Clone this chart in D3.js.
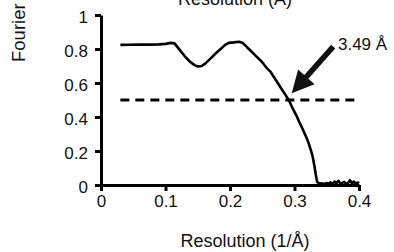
<!DOCTYPE html>
<html>
<head>
<meta charset="utf-8">
<script src="https://cdn.jsdelivr.net/npm/d3@7"></script>
<style>
  body { margin: 0; background: #fff; }
  svg { display: block; font-family: "Liberation Sans", Arial, sans-serif; }
</style>
</head>
<body>
<svg id="chart" width="394" height="252"></svg>
<script>
// FSC curve
var resolution = [0.030, 0.045, 0.060, 0.075, 0.090, 0.100, 0.108, 0.114, 0.122, 0.130,
  0.138, 0.145, 0.150, 0.156, 0.162, 0.170, 0.178, 0.186, 0.192, 0.198,
  0.206, 0.214, 0.220, 0.226, 0.232, 0.240, 0.247, 0.252, 0.257, 0.263,
  0.268, 0.274, 0.280, 0.286, 0.291, 0.296, 0.300, 0.304, 0.308, 0.312,
  0.316, 0.319, 0.322, 0.325, 0.328, 0.331, 0.333, 0.335, 0.338, 0.342,
  0.346, 0.350, 0.353, 0.356, 0.359, 0.362, 0.365, 0.368, 0.371, 0.374,
  0.377, 0.380, 0.383, 0.386, 0.389, 0.392, 0.395, 0.398, 0.400];
var fsc = [0.824, 0.825, 0.826, 0.826, 0.827, 0.830, 0.836, 0.833, 0.795, 0.757,
  0.725, 0.705, 0.697, 0.700, 0.715, 0.745, 0.775, 0.802, 0.823, 0.836,
  0.839, 0.843, 0.835, 0.812, 0.790, 0.760, 0.734, 0.712, 0.688, 0.665,
  0.635, 0.600, 0.565, 0.530, 0.500, 0.460, 0.430, 0.400, 0.365, 0.335,
  0.300, 0.275, 0.245, 0.210, 0.170, 0.110, 0.060, 0.020, 0.008, 0.010,
  0.006, 0.012, 0.008, 0.015, 0.006, 0.020, 0.010, 0.025, 0.008, 0.012,
  0.018, 0.006, 0.012, 0.028, 0.010, 0.020, 0.007, 0.015, 0.010];

var xTicks = [0, 0.1, 0.2, 0.3, 0.4];
var yTicks = [0, 0.2, 0.4, 0.6, 0.8, 1];
var threshold = 0.5;
var thresholdRange = [0.03, 0.4];
var arrowFrom = [0.360, 0.814];
var arrowTo = [0.2957, 0.539];
var labelAt = [0.3674, 0.794];
var labelText = "3.49 Å";

var svg = d3.select("#chart");
var x = d3.scaleLinear().domain([0, 0.4]).range([101, 359]);
var y = d3.scaleLinear().domain([0, 1]).range([185, 15]);
var fmt = function(d) { return String(+d.toFixed(1)); };

var xAxis = svg.append("g")
    .attr("transform", "translate(0,185)")
    .call(d3.axisBottom(x).tickValues(xTicks).tickFormat(fmt).tickSize(6).tickSizeOuter(0).tickPadding(4));
var yAxis = svg.append("g")
    .attr("transform", "translate(101,0)")
    .call(d3.axisLeft(y).tickValues(yTicks).tickFormat(fmt).tickSize(6).tickSizeOuter(0).tickPadding(7));

[xAxis, yAxis].forEach(function(a) {
  a.select(".domain").attr("stroke", "#000").attr("stroke-width", 3);
  a.selectAll(".tick line").attr("stroke", "#000").attr("stroke-width", 3);
  a.selectAll(".tick text").attr("fill", "#111").style("font-size", "17px")
    .style("font-family", "Liberation Sans, Arial, sans-serif");
});
yAxis.selectAll(".tick text").attr("dy", "0.45em");

// 0.5 threshold
svg.append("line")
    .attr("x1", x(thresholdRange[0])).attr("x2", x(thresholdRange[1]))
    .attr("y1", y(threshold)).attr("y2", y(threshold))
    .attr("stroke", "#000").attr("stroke-width", 3)
    .attr("stroke-dasharray", "9,6");

var line = d3.line()
    .x(function(d, i) { return x(resolution[i]); })
    .y(function(d) { return y(d); });

svg.append("path")
    .datum(fsc)
    .attr("fill", "none")
    .attr("stroke", "#000")
    .attr("stroke-width", 2.6)
    .attr("stroke-linejoin", "round")
    .attr("d", line);

// arrow
var ax0 = x(arrowFrom[0]), ay0 = y(arrowFrom[1]);
var ax1 = x(arrowTo[0]), ay1 = y(arrowTo[1]);
var len = Math.hypot(ax1 - ax0, ay1 - ay0);
var ux = (ax1 - ax0) / len, uy = (ay1 - ay0) / len;
var headLen = 22, headW = 11;
var bx = ax1 - ux * headLen, by = ay1 - uy * headLen;
svg.append("line")
    .attr("x1", ax0).attr("y1", ay0).attr("x2", bx + ux * 2).attr("y2", by + uy * 2)
    .attr("stroke", "#111").attr("stroke-width", 5.5);
svg.append("path")
    .attr("d", "M" + ax1 + "," + ay1 +
      "L" + (bx - uy * headW) + "," + (by + ux * headW) +
      "L" + (bx + uy * headW) + "," + (by - ux * headW) + "Z")
    .attr("fill", "#111");

svg.append("text")
    .attr("x", x(labelAt[0])).attr("y", y(labelAt[1]))
    .attr("fill", "#111").style("font-size", "17px")
    .text(labelText);

// axis titles (cut by the frame in the original)
svg.append("text")
    .attr("x", 235).attr("y", 5)
    .attr("text-anchor", "middle")
    .attr("fill", "#111").style("font-size", "18px")
    .text("Resolution (Å)");

svg.append("text")
    .attr("x", 245).attr("y", 247)
    .attr("text-anchor", "middle")
    .attr("fill", "#111").style("font-size", "18px")
    .text("Resolution (1/Å)");

svg.append("text")
    .attr("transform", "translate(25,62) rotate(-90)")
    .attr("fill", "#111").style("font-size", "18.5px")
    .text("Fourier");
</script>
</body>
</html>
